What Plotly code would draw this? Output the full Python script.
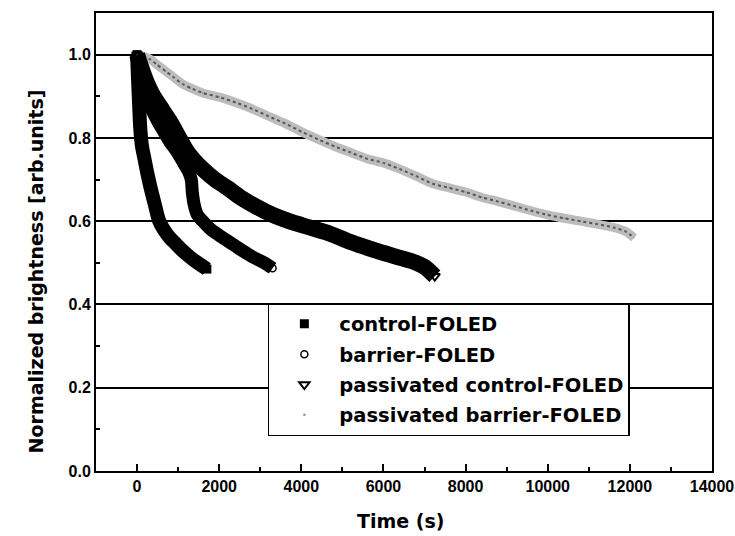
import plotly.graph_objects as go

# ---- data ----
control_t = [0, 20, 50, 80, 120, 180, 250, 330, 420, 540, 650, 800, 950, 1100, 1250, 1400, 1550, 1700]
control_b = [1.00, 0.95, 0.88, 0.82, 0.78, 0.75, 0.715, 0.68, 0.645, 0.60, 0.58, 0.56, 0.545, 0.53, 0.517, 0.505, 0.495, 0.485]

barrier_t = [0, 100, 200, 350, 500, 650, 800, 950, 1100, 1250, 1320, 1345, 1390, 1470, 1600, 1800, 2000, 2200, 2400, 2600, 2800, 3000, 3150, 3300]
barrier_b = [1.00, 0.95, 0.91, 0.87, 0.84, 0.815, 0.79, 0.77, 0.745, 0.72, 0.70, 0.67, 0.64, 0.615, 0.60, 0.58, 0.566, 0.553, 0.54, 0.527, 0.515, 0.505, 0.497, 0.487]

pass_control_t = [0, 100, 250, 400, 600, 800, 1000, 1200, 1400, 1600, 1900, 2200, 2550, 2900, 3300, 3700, 4200, 4700, 5200, 5800, 6300, 6800, 7000, 7250]
pass_control_b = [1.00, 0.97, 0.93, 0.90, 0.87, 0.84, 0.805, 0.77, 0.745, 0.725, 0.70, 0.68, 0.655, 0.635, 0.615, 0.60, 0.585, 0.57, 0.55, 0.53, 0.515, 0.50, 0.49, 0.468]

pass_barrier_t = [0, 300, 500, 700, 900, 1100, 1300, 1600, 2000, 2400, 2800, 3200, 3600, 4000, 4400, 4800, 5200, 5600, 6000, 6400, 6800, 7200, 7600, 8000, 8400, 8800, 9200, 9600, 10000, 10400, 10800, 11200, 11600, 11900, 12100]
pass_barrier_b = [1.00, 0.99, 0.975, 0.96, 0.945, 0.93, 0.92, 0.908, 0.898, 0.885, 0.87, 0.852, 0.835, 0.815, 0.797, 0.78, 0.765, 0.75, 0.74, 0.725, 0.708, 0.69, 0.68, 0.67, 0.657, 0.647, 0.636, 0.625, 0.615, 0.607, 0.60, 0.593, 0.585, 0.575, 0.56]

names = ["control-FOLED", "barrier-FOLED", "passivated control-FOLED", "passivated barrier-FOLED"]

FONT = "DejaVu Sans"
TICKFONT = "Liberation Sans"

fig = go.Figure()

# passivated barrier (light dotted band)
fig.add_trace(go.Scatter(x=pass_barrier_t, y=pass_barrier_b, mode="lines",
                         line=dict(color="#bcbcbc", width=9, shape="spline", smoothing=0.8),
                         showlegend=False, hoverinfo="skip"))
fig.add_trace(go.Scatter(x=pass_barrier_t, y=pass_barrier_b, mode="lines",
                         line=dict(color="#555555", width=2, dash="dot", shape="spline", smoothing=0.8),
                         showlegend=False, hoverinfo="skip"))
# thick black bands
fig.add_trace(go.Scatter(x=pass_control_t, y=pass_control_b, mode="lines",
                         line=dict(color="black", width=16, shape="spline", smoothing=0.8),
                         showlegend=False, hoverinfo="skip"))
fig.add_trace(go.Scatter(x=barrier_t, y=barrier_b, mode="lines",
                         line=dict(color="black", width=13, shape="spline", smoothing=0.8),
                         showlegend=False, hoverinfo="skip"))
fig.add_trace(go.Scatter(x=control_t, y=control_b, mode="lines",
                         line=dict(color="black", width=14, shape="spline", smoothing=0.8),
                         showlegend=False, hoverinfo="skip"))

# marker traces (legend entries)
fig.add_trace(go.Scatter(x=control_t, y=control_b, mode="markers", name=names[0], legendgroup="a",
                         marker=dict(symbol="square", size=9, color="black")))
fig.add_trace(go.Scatter(x=barrier_t, y=barrier_b, mode="markers", name=names[1], legendgroup="b",
                         marker=dict(symbol="circle-open", size=7, color="black", line=dict(width=1.5))))
fig.add_trace(go.Scatter(x=pass_control_t, y=pass_control_b, mode="markers", name=names[2], legendgroup="c",
                         marker=dict(symbol="triangle-down-open", size=9, color="black", line=dict(width=2))))
fig.add_trace(go.Scatter(x=pass_barrier_t, y=pass_barrier_b, mode="markers", name=names[3], legendgroup="d",
                         marker=dict(symbol="square", size=1, color="#777777")))

fig.update_layout(
    width=735, height=536,
    margin=dict(l=96, r=23, t=13, b=65),
    paper_bgcolor="white", plot_bgcolor="white",
    font=dict(family=FONT, color="black"),
    legend=dict(x=0.279, y=0.3665, xanchor="left", yanchor="top",
                bordercolor="black", borderwidth=1.5, bgcolor="white",
                font=dict(family=FONT, size=19.5, weight="bold"),
                itemwidth=60, tracegroupgap=2),
    annotations=[
        dict(text="Normalized brightness [arb.units]", textangle=-90,
             xref="paper", yref="paper", x=-0.098, y=0.435,
             xanchor="center", yanchor="middle", showarrow=False,
             font=dict(family=FONT, size=19, weight="bold")),
        dict(text="Time (s)", xref="paper", yref="paper", x=0.494, y=-0.109,
             xanchor="center", yanchor="middle", showarrow=False,
             font=dict(family=FONT, size=19, weight="bold")),
    ],
)

fig.update_xaxes(
    range=[-1000, 14000], tick0=0, dtick=2000, tickformat="d",
    showline=True, linecolor="black", linewidth=2, mirror=True,
    ticks="inside", ticklen=7, tickwidth=2, tickcolor="black",
    minor=dict(dtick=1000, ticks="inside", ticklen=4, tickwidth=1.5, tickcolor="black", showgrid=False),
    showgrid=False, zeroline=False, automargin=False, ticklabeloverflow="allow",
    tickfont=dict(family=TICKFONT, size=16, weight="bold"),
)
fig.update_yaxes(
    range=[0, 1.1], tick0=0, dtick=0.2, tickformat=".1f",
    showline=True, linecolor="black", linewidth=2, mirror=True,
    ticks="inside", ticklen=6, tickwidth=2, tickcolor="black",
    minor=dict(dtick=0.1, ticks="inside", ticklen=4, tickwidth=1.5, tickcolor="black", showgrid=False),
    showgrid=True, gridcolor="black", gridwidth=1.6, zeroline=False, automargin=False,
    tickfont=dict(family=TICKFONT, size=16, weight="bold"),
)

fig.write_html("out.html")
